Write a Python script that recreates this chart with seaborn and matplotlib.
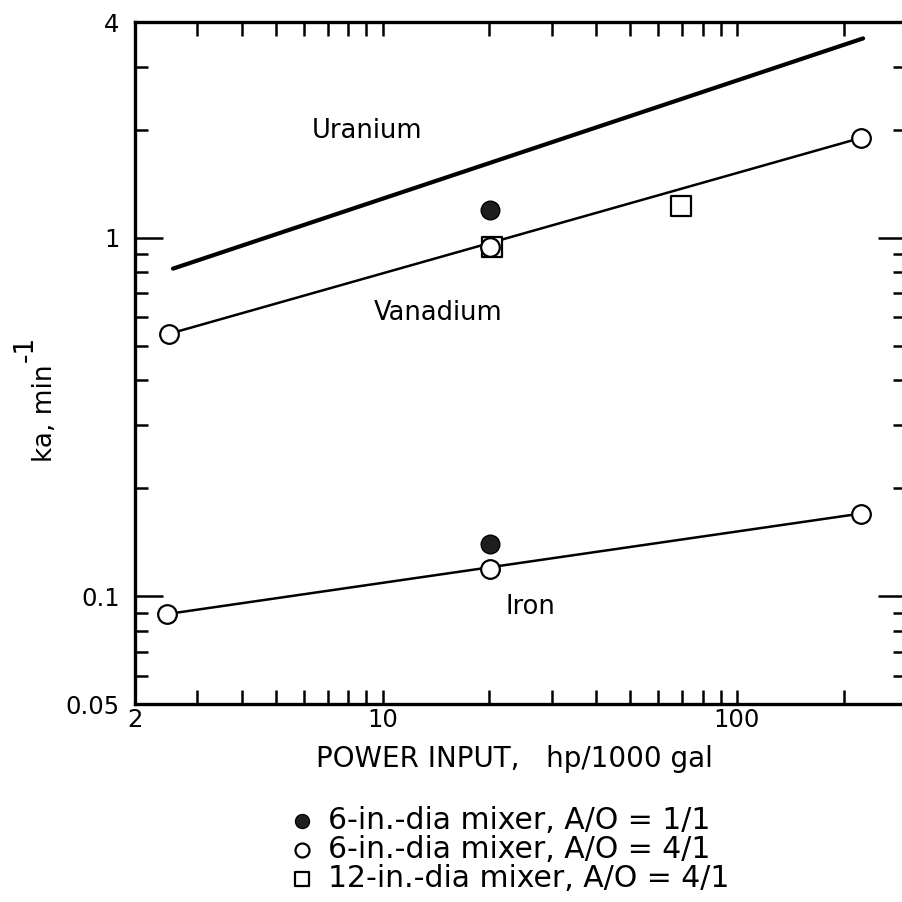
import numpy as np
import pandas as pd
import matplotlib
matplotlib.use("Agg")
import matplotlib.pyplot as plt
import seaborn as sns
from matplotlib.ticker import FixedLocator, FixedFormatter, LogLocator, NullFormatter

# ---------------- data ----------------
uranium_x = [2.56, 227.0]
uranium_y = [0.82, 3.60]
vanadium_fit_x = [2.49, 224.0]
vanadium_fit_y = [0.539, 1.90]
iron_fit_x = [2.46, 224.0]
iron_fit_y = [0.0891, 0.170]

filled_x = [20.1, 20.1]          # 6-in.-dia mixer, A/O = 1/1
filled_y = [1.197, 0.1397]
open_x = [2.49, 20.1, 224.0, 2.46, 20.1, 224.0]   # 6-in.-dia mixer, A/O = 4/1
open_y = [0.539, 0.944, 1.90, 0.0891, 0.119, 0.170]
square_x = [20.3, 69.5]          # 12-in.-dia mixer, A/O = 4/1
square_y = [0.944, 1.228]

series_labels = ["6-in.-dia mixer, A/O = 1/1",
                 "6-in.-dia mixer, A/O = 4/1",
                 "12-in.-dia mixer, A/O = 4/1"]
curve_labels = ["Uranium", "Vanadium", "Iron"]
curve_label_x = [9.03, 14.3, 26.2]
curve_label_y = [1.99, 0.617, 0.0931]

x_ticks = [2, 10, 100]
x_tick_labels = ["2", "10", "100"]
y_ticks = [0.05, 0.1, 1, 4]
y_tick_labels = ["0.05", "0.1", "1", "4"]
x_label = "POWER INPUT,   hp/1000 gal"
y_label_main = "ka, min"
y_label_exp = "-1"

# ---------------- style ----------------
sns.set_style("ticks")
plt.rcParams["font.family"] = ["DejaVu Sans"]
plt.rcParams["text.color"] = "black"

W = H = 902
fig = plt.figure(figsize=(9.02, 9.02), dpi=100)
ax = fig.add_axes([135 / W, 198 / H, 771 / W, 682 / H])
ax.set_xscale("log")
ax.set_yscale("log")

# fitted lines
sns.lineplot(x=uranium_x, y=uranium_y, ax=ax, color="black", linewidth=3.0, zorder=2)
sns.lineplot(x=vanadium_fit_x, y=vanadium_fit_y, ax=ax, color="black", linewidth=1.8, zorder=2)
sns.lineplot(x=iron_fit_x, y=iron_fit_y, ax=ax, color="black", linewidth=1.8, zorder=2)

# points
sns.scatterplot(x=square_x, y=square_y, ax=ax, marker="s", s=190, facecolor="white",
                edgecolor="black", linewidth=1.6, zorder=3, label=series_labels[2])
sns.scatterplot(x=open_x, y=open_y, ax=ax, marker="o", s=180, facecolor="white",
                edgecolor="black", linewidth=1.6, zorder=4, label=series_labels[1])
sns.scatterplot(x=filled_x, y=filled_y, ax=ax, marker="o", s=180, facecolor="#1e1e1e",
                edgecolor="black", linewidth=1.0, zorder=4, label=series_labels[0])

ax.set_xlim(2, 300)
ax.set_ylim(0.05, 4)

# curve labels
for t, xx, yy in zip(curve_labels, curve_label_x, curve_label_y):
    ax.text(xx, yy, t, fontsize=18.5, ha="center", va="center", color="black")

# ticks
ax.xaxis.set_major_locator(FixedLocator(x_ticks))
ax.xaxis.set_major_formatter(FixedFormatter(x_tick_labels))
ax.xaxis.set_minor_locator(LogLocator(base=10, subs=np.arange(2, 10), numticks=20))
ax.xaxis.set_minor_formatter(NullFormatter())
ax.yaxis.set_major_locator(FixedLocator(y_ticks))
ax.yaxis.set_major_formatter(FixedFormatter(y_tick_labels))
ax.yaxis.set_minor_locator(LogLocator(base=10, subs=np.arange(2, 10), numticks=20))
ax.yaxis.set_minor_formatter(NullFormatter())

ax.tick_params(which="both", direction="in", top=True, right=True, color="black",
               width=1.8, labelsize=17.5, labelcolor="black")
ax.tick_params(axis="x", which="both", length=10, pad=3)
ax.tick_params(axis="y", which="major", length=20, pad=11)
ax.tick_params(axis="y", which="minor", length=9.5)

for s in ax.spines.values():
    s.set_linewidth(2.4)
    s.set_color("black")

# x label
ax.set_xlabel(x_label, fontsize=20, color="black")
ax.xaxis.label.set_va("center")
ax.xaxis.set_label_coords((514 - 135) / 771, (704 - 759) / 682)

# y label: main part as the axis label, large raised exponent as extra text
ax.set_ylabel(y_label_main, fontsize=19, color="black")
ax.yaxis.label.set_rotation_mode("anchor")
ax.yaxis.label.set_ha("right")
ax.yaxis.label.set_va("baseline")
ax.yaxis.set_label_coords((52 - 135) / 771, (704 - 364) / 682)
fig.text(33 / W, 1 - 362 / H, y_label_exp, fontsize=19, rotation=90,
         rotation_mode="anchor", ha="left", va="baseline", color="black")

# legend below the axes
h, l = ax.get_legend_handles_labels()
hd = dict(zip(l, h))
leg = ax.legend([hd[s] for s in series_labels], series_labels,
                loc="upper left", bbox_to_anchor=(291 / W, 1 - 806 / H),
                bbox_transform=fig.transFigure, frameon=False, fontsize=21.5,
                markerscale=0.75, handletextpad=0.5, handlelength=0.75,
                labelspacing=0.0, borderpad=0, borderaxespad=0)
for t in leg.get_texts():
    t.set_color("black")

fig.savefig("out.png", dpi=100)
